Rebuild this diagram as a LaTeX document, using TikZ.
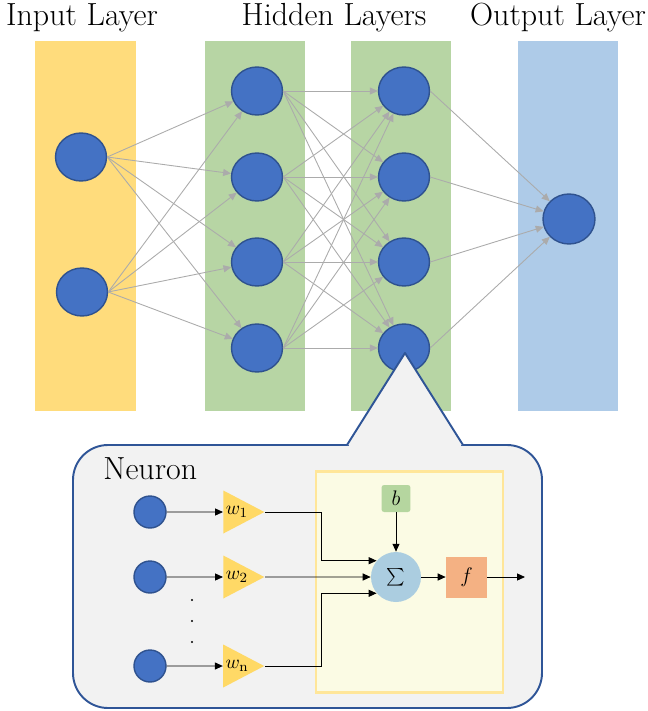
\documentclass[tikz,border=0pt]{standalone}
\usetikzlibrary{shapes.geometric,arrows.meta}

\definecolor{neuronblue}{HTML}{4472C4}
\definecolor{neuronline}{HTML}{2F528F}
\definecolor{inband}{HTML}{FFDC7C}
\definecolor{hidband}{HTML}{B7D5A4}
\definecolor{outband}{HTML}{AECBE8}
\definecolor{linkgray}{HTML}{ABABAB}
\definecolor{calloutgray}{HTML}{F2F2F2}
\definecolor{calloutline}{HTML}{2F5597}
\definecolor{boxyellow}{HTML}{FBFBE4}
\definecolor{boxline}{HTML}{FFE699}
\definecolor{weightyellow}{HTML}{FFD966}
\definecolor{biasgreen}{HTML}{B5D69F}
\definecolor{sumblue}{HTML}{ABCDE0}
\definecolor{actorange}{HTML}{F4B183}

\tikzset{
  title/.style={font=\fontsize{18.2}{21}\selectfont,anchor=base},
  neuron/.style={ellipse,draw=neuronline,fill=neuronblue,line width=0.8pt,
    minimum width=1.02cm,minimum height=0.96cm,inner sep=0pt},
  small neuron/.style={circle,draw=neuronline,fill=neuronblue,line width=0.8pt,
    minimum size=0.64cm,inner sep=0pt},
  link/.style={draw=linkgray,line width=0.5pt,-{Triangle[length=4.5pt,width=4pt]}},
  wire/.style={draw=black,line width=0.5pt,-{Triangle[length=4.5pt,width=4pt]}},
  weight/.style={isosceles triangle,isosceles triangle stretches,fill=weightyellow,
    minimum width=0.86cm,minimum height=0.82cm,inner sep=0pt,
    font=\fontsize{11}{13}\selectfont},
  bias/.style={rectangle,rounded corners=1.5pt,fill=biasgreen,minimum width=0.58cm,
    minimum height=0.54cm,font=\fontsize{11.5}{13}\selectfont},
  sumnode/.style={circle,fill=sumblue,minimum size=1cm,inner sep=0pt,
    font=\fontsize{13}{15}\selectfont},
  act/.style={rectangle,fill=actorange,minimum size=0.82cm,
    font=\fontsize{11.5}{13}\selectfont}
}

\begin{document}
\begin{tikzpicture}[x=0.02cm,y=-0.02cm]
  \useasboundingbox (0,0) rectangle (648,711);
  % layer bands
  \fill[inband] (35,41) rectangle (136,411);
  \fill[hidband] (205,41) rectangle (305,411);
  \fill[hidband] (351,41) rectangle (451,411);
  \fill[outband] (518,41) rectangle (618,411);
  \node[title] (tin) at (82,25) {Input Layer};
  \node[title] (thid) at (334,25) {Hidden Layers};
  \node[title] (tout) at (558,25) {Output Layer};
  % neurons
  \node[neuron] (in1) at (81,157) {};
  \node[neuron] (in2) at (82,292) {};
  \foreach \i/\y in {1/91,2/177,3/262,4/348} {
    \node[neuron] (ha\i) at (257,\y) {};
    \node[neuron] (hb\i) at (404,\y) {};
  }
  \node[neuron,minimum width=1.04cm,minimum height=1cm] (out) at (569,219) {};
  % links
  \foreach \a in {1,2}
    \foreach \b in {1,...,4}
      \draw[link] (in\a.east) -- (ha\b);
  \foreach \a in {1,...,4} {
    \foreach \b in {1,...,4}
      \draw[link] (ha\a.east) -- (hb\b);
    \draw[link] (hb\a.east) -- (out);
  }
  % callout
  \draw[fill=calloutgray,draw=calloutline,line width=1.1pt,rounded corners=0.7cm]
    (73,445) rectangle (542,708);
  \fill[calloutgray] (347,445) -- (405,353) -- (463,445) -- cycle;
  \fill[calloutgray] (349,442) rectangle (461,448);
  \draw[calloutline,line width=1.1pt,line join=round] (347,445) -- (405,353) -- (463,445);
  \node[title,anchor=base west,inner sep=0pt] (nlabel) at (103,479) {Neuron};
  \draw[fill=boxyellow,draw=boxline,line width=1.7pt] (316,471) rectangle (503,692);
  % inputs and weights
  \foreach \i/\y/\s in {1/512/1,2/577/2,n/666/\mathrm{n}} {
    \node[small neuron] (x\i) at (150,\y) {};
    \node[weight] (w\i) at (237,\y) {$w_{\s}$};
    \draw[wire] (x\i) -- (w\i);
  }
  \foreach \y in {600,621,642}
    \fill (192,\y) circle (0.7pt);
  % summing part
  \node[bias] (b) at (396,498.5) {$b$};
  \node[sumnode] (sum) at (396,577) {$\sum$};
  \node[act] (f) at (466.5,577) {$f$};
  \coordinate (bus) at (321,577);
  \coordinate (y) at (525,577);
  \draw[wire] (w1.east) -- (w1.east -| bus) |- (sum.140);
  \draw[wire] (w2.east) -- (sum);
  \draw[wire] (wn.east) -- (wn.east -| bus) |- (sum.220);
  \draw[wire] (b) -- (sum);
  \draw[wire] (sum) -- (f);
  \draw[wire] (f) -- (y);
\end{tikzpicture}
\end{document}
